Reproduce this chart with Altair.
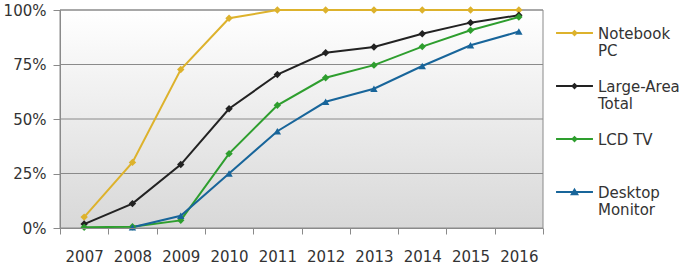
import altair as alt
import pandas as pd

years = ["2007", "2008", "2009", "2010", "2011", "2012", "2013", "2014", "2015", "2016"]
series_names = ["Notebook PC", "Large-Area Total", "LCD TV", "Desktop Monitor"]
legend_labels = ["Notebook|PC", "Large-Area|Total", "LCD TV", "Desktop|Monitor"]
notebook = [5.0, 30.1, 72.7, 96.2, 100, 100, 100, 100, 100, 100]
large_area = [1.8, 11.2, 29.1, 54.7, 70.4, 80.4, 83.0, 89.1, 94.2, 97.6]
lcd_tv = [0.3, 0.6, 3.5, 34.1, 56.3, 68.9, 74.7, 83.2, 90.7, 96.8]
desktop = [None, 0.3, 5.6, 25.0, 44.4, 57.9, 63.9, 74.3, 83.8, 90.1]
grid_values = [0.25, 0.5, 0.75, 1.0]
colors = ["#DDB22C", "#222222", "#2E9E2E", "#18659A"]

rows = []
for name, lab, vals in zip(series_names, legend_labels, [notebook, large_area, lcd_tv, desktop]):
    for y, v in zip(years, vals):
        if v is not None:
            rows.append({"year": y, "value": v / 100.0, "series": lab, "marker": name})
df = pd.DataFrame(rows)

W, H = 483, 218
GRAY = "#8a8a8a"

xenc = alt.X("year:N", sort=years, title=None,
             scale=alt.Scale(paddingInner=0, paddingOuter=0),
             axis=alt.Axis(labelAngle=0, tickBand="extent", grid=False, tickSize=6,
                           domainColor=GRAY, tickColor=GRAY, labelPadding=15, zindex=1))
yenc = alt.Y("value:Q", title=None,
             scale=alt.Scale(domain=[0, 1], nice=False),
             axis=alt.Axis(values=[0, 0.25, 0.5, 0.75, 1], format=".0%", tickSize=7,
                           tickColor=GRAY, domainColor=GRAY, grid=False,
                           labelPadding=7, zindex=1))

bg = alt.Chart(pd.DataFrame({"a": [0]})).mark_rect(
    color=alt.LinearGradient(gradient="linear", x1=0, y1=0, x2=0, y2=1,
                             stops=[alt.GradientStop(color="#ffffff", offset=0),
                                    alt.GradientStop(color="#d8d8d8", offset=1)])
).encode(x=alt.value(0), x2=alt.value(W), y=alt.value(0), y2=alt.value(H))

grid = alt.Chart(pd.DataFrame({"g": grid_values})).mark_rule(color=GRAY, strokeWidth=1).encode(
    y=alt.Y("g:Q", scale=alt.Scale(domain=[0, 1], nice=False)),
    x=alt.value(0), x2=alt.value(W),
)

border = alt.Chart(pd.DataFrame({"a": [0]})).mark_rect(
    fillOpacity=0, stroke=GRAY, strokeWidth=1
).encode(x=alt.value(0), x2=alt.value(W), y=alt.value(0), y2=alt.value(H))

lines = alt.Chart(df).mark_line(strokeWidth=2).encode(
    x=xenc, y=yenc,
    stroke=alt.Stroke("marker:N", scale=alt.Scale(domain=series_names, range=colors), legend=None),
)

points = alt.Chart(df).mark_point(filled=True, opacity=1, size=55, strokeWidth=0).encode(
    x=alt.X("year:N", sort=years), y="value:Q",
    fill=alt.Fill("marker:N", scale=alt.Scale(domain=series_names, range=colors), legend=None),
    shape=alt.condition("datum.marker == 'Desktop Monitor'",
                        alt.value("triangle-up"), alt.value("diamond")),
)

# legend symbol: thin bar (the line) with a marker, in symbol units (half-size 22.5px),
# raised so that it sits on the first line of each label; zero-area end points keep
# every legend row the same height
S = 2025
extent = "M0,-1L0.01,-1L0,-1ZM0,1L0.01,1L0,1Z"
diamond_path = extent + "M-0.82,-0.285H0.82V-0.195H-0.82ZM0,-0.39L0.15,-0.24L0,-0.09L-0.15,-0.24Z"
triangle_path = extent + "M-0.82,-0.285H0.82V-0.195H-0.82ZM0,-0.43L0.2,-0.1L-0.2,-0.1Z"
legend_paths = [diamond_path, diamond_path, diamond_path, triangle_path]


def make_legend():
    return alt.Legend(title=None, orient="none", legendX=492, legendY=6,
                      labelExpr="split(datum.label, '|')",
                      labelFontSize=15, labelColor="#333333",
                      labelFont="DejaVu Sans", labelBaseline="alphabetic",
                      labelLimit=200, symbolSize=S, symbolStrokeWidth=0,
                      rowPadding=8, labelOffset=1)


legend_layer = alt.Chart(df).transform_filter("datum.value > 10").mark_point(
    filled=True, size=S, strokeWidth=0, opacity=1
).encode(
    x=alt.X("year:N", sort=years), y="value:Q",
    color=alt.Color("series:N", scale=alt.Scale(domain=legend_labels, range=colors),
                    legend=make_legend()),
    shape=alt.Shape("series:N", scale=alt.Scale(domain=legend_labels, range=legend_paths),
                    legend=make_legend()),
)

chart = alt.layer(bg, grid, border, lines, points, legend_layer).properties(
    width=W, height=H,
    autosize=alt.AutoSizeParams(type="none"),
    padding={"left": 60, "top": 10, "right": 147, "bottom": 36},
    background="white",
).configure_view(stroke=None).configure_axis(
    labelFont="DejaVu Sans", labelFontSize=15, labelColor="#333333",
)

chart.save("out.html", embed_options={"renderer": "svg", "actions": False})
